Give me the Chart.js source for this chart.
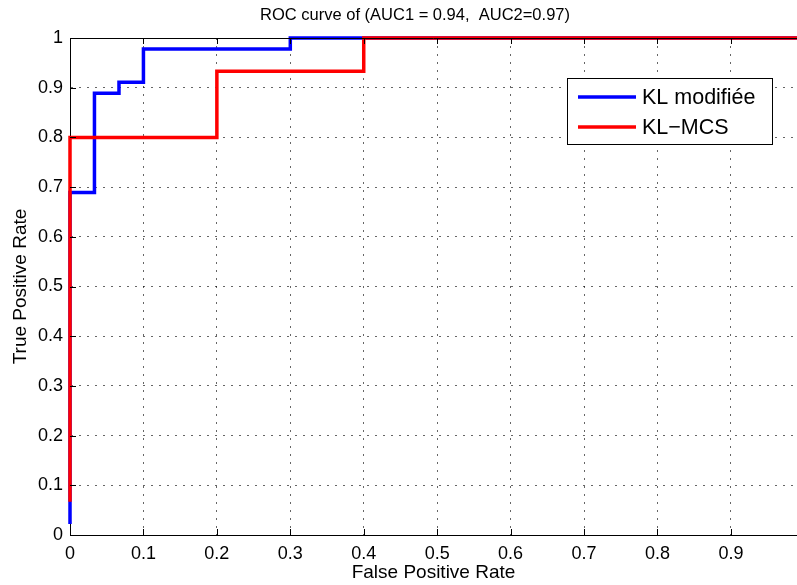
<!DOCTYPE html>
<html>
<head>
<meta charset="utf-8">
<script src="https://cdn.jsdelivr.net/npm/chart.js@4.4.1/dist/chart.umd.min.js"></script>
<style>
  html, body { margin: 0; padding: 0; background: #fff; }
  #wrap { width: 797px; height: 585px; }
</style>
</head>
<body>
<div id="wrap"><canvas id="roc"></canvas></div>
<script>
// ROC curves, step style
const titleText = 'ROC curve of (AUC1 = 0.94,  AUC2=0.97)';
const xLabel = 'False Positive Rate';
const yLabel = 'True Positive Rate';

const seriesNames = ['KL modifiée', 'KL\u2212MCS'];
const seriesColors = ['#0000ff', '#ff0000'];

// KL modifiée
const fpr1 = [0, 0, 0.0333, 0.0667, 0.1, 0.3, 1];
const tpr1 = [0.022, 0.689, 0.889, 0.911, 0.978, 1, 1];
// KL-MCS
const fpr2 = [0, 0, 0.2, 0.4, 1];
const tpr2 = [0.067, 0.8, 0.933, 1, 1];

const xTicks = [0, 0.1, 0.2, 0.3, 0.4, 0.5, 0.6, 0.7, 0.8, 0.9];
const yTicks = [0, 0.1, 0.2, 0.3, 0.4, 0.5, 0.6, 0.7, 0.8, 0.9, 1];
const xMax = 0.99;

const FONT = '"Liberation Sans", Arial, Helvetica, sans-serif';

function pts(xs, ys) {
  return xs.map((x, i) => ({ x: x, y: ys[i] }));
}
function fmt(v) {
  return String(Number(v.toFixed(2)));
}

// title, top border, inward tick marks, boxed legend
const decorPlugin = {
  id: 'decor',
  afterDraw(chart) {
    const ctx = chart.ctx;
    const a = chart.chartArea;
    const xs = chart.scales.x, ys = chart.scales.y;
    ctx.save();

    // title
    ctx.fillStyle = '#000';
    ctx.font = '16.5px ' + FONT;
    ctx.textAlign = 'center';
    ctx.textBaseline = 'middle';
    ctx.fillText(titleText, 415, 15);

    // top border
    ctx.strokeStyle = '#000';
    ctx.lineWidth = 1;
    ctx.beginPath();
    ctx.moveTo(a.left, a.top + 0.5);
    ctx.lineTo(a.right, a.top + 0.5);
    ctx.stroke();

    // inward tick marks
    ctx.beginPath();
    xTicks.forEach(v => {
      const px = Math.round(xs.getPixelForValue(v)) + 0.5;
      ctx.moveTo(px, a.bottom); ctx.lineTo(px, a.bottom - 6);
      ctx.moveTo(px, a.top); ctx.lineTo(px, a.top + 6);
    });
    yTicks.forEach(v => {
      const py = Math.round(ys.getPixelForValue(v)) + 0.5;
      ctx.moveTo(a.left, py); ctx.lineTo(a.left + 6, py);
    });
    ctx.stroke();

    // legend
    const bx = a.right - 230, by = a.top + 40, bw = 205, bh = 66;
    ctx.fillStyle = '#fff';
    ctx.fillRect(bx, by, bw, bh);
    ctx.strokeStyle = '#000';
    ctx.strokeRect(bx + 0.5, by + 0.5, bw, bh);
    ctx.font = '21.5px ' + FONT;
    ctx.textAlign = 'left';
    chart.data.datasets.forEach((ds, i) => {
      const y = by + 19 + i * 30;
      ctx.strokeStyle = ds.borderColor;
      ctx.lineWidth = 3.5;
      ctx.beginPath();
      ctx.moveTo(bx + 11, y);
      ctx.lineTo(bx + 69, y);
      ctx.stroke();
      ctx.fillStyle = '#000';
      ctx.fillText(ds.label, bx + 75, y + 1);
    });
    ctx.restore();
  }
};

new Chart(document.getElementById('roc'), {
  type: 'line',
  data: {
    datasets: [
      {
        label: seriesNames[0],
        data: pts(fpr1, tpr1),
        borderColor: seriesColors[0],
        borderWidth: 3.5,
        pointRadius: 0,
        stepped: true,
        clip: 4,
        order: 1
      },
      {
        label: seriesNames[1],
        data: pts(fpr2, tpr2),
        borderColor: seriesColors[1],
        borderWidth: 3.5,
        pointRadius: 0,
        stepped: true,
        clip: 4,
        order: 0
      }
    ]
  },
  options: {
    responsive: true,
    maintainAspectRatio: false,
    animation: false,
    layout: { padding: { top: 38, right: 0, left: 0, bottom: 0 } },
    plugins: {
      legend: { display: false },
      title: { display: false },
      tooltip: { enabled: false }
    },
    scales: {
      x: {
        type: 'linear',
        min: 0,
        max: xMax,
        afterFit: s => { s.height = 50; },
        afterBuildTicks: s => { s.ticks = xTicks.map(v => ({ value: v })); },
        border: { display: true, color: '#000', width: 1, dash: [2, 6] },
        grid: {
          color: 'rgba(0,0,0,0.6)',
          drawTicks: false
        },
        ticks: {
          padding: 8,
          color: '#000',
          font: { family: FONT, size: 18 },
          maxRotation: 0,
          callback: v => fmt(v)
        },
        title: {
          display: true,
          text: xLabel,
          color: '#000',
          font: { family: FONT, size: 19 },
          padding: { top: 0, bottom: 1 }
        }
      },
      y: {
        type: 'linear',
        min: 0,
        max: 1,
        afterFit: s => { s.width = 70; },
        afterBuildTicks: s => { s.ticks = yTicks.map(v => ({ value: v })); },
        border: { display: true, color: '#000', width: 1, dash: [2, 6] },
        grid: {
          color: 'rgba(0,0,0,0.6)',
          drawTicks: false
        },
        ticks: {
          padding: 7,
          color: '#000',
          font: { family: FONT, size: 18 },
          callback: v => fmt(v)
        },
        title: {
          display: true,
          text: yLabel,
          color: '#000',
          font: { family: FONT, size: 19 },
          padding: { top: 9 }
        }
      }
    }
  },
  plugins: [decorPlugin]
});
</script>
</body>
</html>
